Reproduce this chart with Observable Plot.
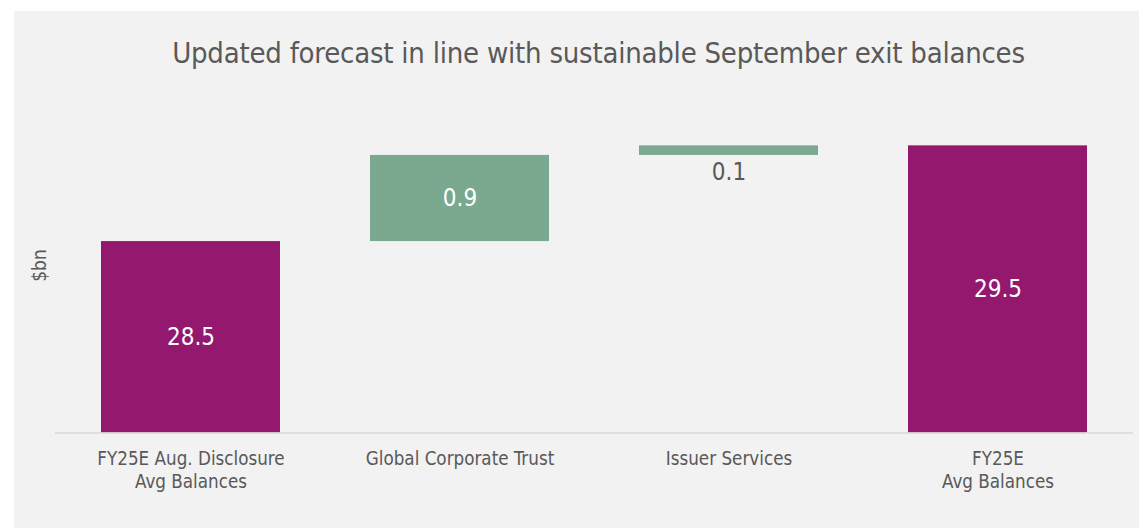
<!DOCTYPE html>
<html>
<head>
<meta charset="utf-8">
<script src="https://cdn.jsdelivr.net/npm/d3@7"></script>
<script src="https://cdn.jsdelivr.net/npm/@observablehq/plot@0.6"></script>
<style>
  html, body { margin: 0; padding: 0; background: #ffffff; }
  body { width: 1139px; height: 529px; position: relative; overflow: hidden;
         font-family: "DejaVu Sans Condensed", "Liberation Sans", sans-serif; }
  #panel { position: absolute; left: 14px; top: 11px; width: 1125px; height: 517px; background: #f2f2f2; }
  #title { position: absolute; left: 58px; width: 1081px; top: 35px; text-align: center;
           font-size: 29px; line-height: 36px; letter-spacing: -0.23px; color: #595959; white-space: nowrap; }
  #chart { position: absolute; left: 0; top: 80px; }
</style>
</head>
<body>
<div id="panel"></div>
<div id="title">Updated forecast in line with sustainable September exit balances</div>
<div id="chart"></div>
<script>
// ---- data ----
const categories = [
  "FY25E Aug. Disclosure\nAvg Balances",
  "Global Corporate Trust",
  "Issuer Services",
  "FY25E\nAvg Balances"
];
const values = [28.5, 0.9, 0.1, 29.5];
const kinds = ["total", "delta", "delta", "total"];
const yDomain = [26.5, 30];
const yLabel = "$bn";

// ---- build waterfall rows ----
let running = 0;
const rows = categories.map((cat, i) => {
  let y1, y2;
  if (kinds[i] === "total") { y1 = yDomain[0]; y2 = values[i]; running = values[i]; }
  else { y1 = running; y2 = running + values[i]; running = y2; }
  return { cat, kind: kinds[i], value: values[i], y1, y2, mid: (y1 + y2) / 2,
           inside: kinds[i] === "total" || Math.abs(values[i]) >= 0.5 };
});

const fontFamily = '"DejaVu Sans Condensed", "Liberation Sans", sans-serif';

const chart = Plot.plot({
  width: 1139,
  height: 449,
  marginLeft: 55,
  marginRight: 6,
  marginTop: 17.5,
  marginBottom: 96.5,
  style: { background: "transparent", fontFamily, color: "#595959", overflow: "visible" },
  x: { domain: categories, paddingInner: 1/3, paddingOuter: 1/6, label: null },
  y: { domain: yDomain, label: yLabel },
  color: { domain: ["total", "delta"], range: ["#93186e", "#7aa98f"] },
  marks: [
    Plot.axisY({ ticks: [], tickSize: 0, label: yLabel, labelAnchor: "center", labelArrow: "none",
                 labelOffset: 23, fontSize: 19, fill: "#595959" }),
    Plot.barY(rows, { x: "cat", y1: "y1", y2: "y2", fill: "kind" }),
    Plot.ruleY([yDomain[0]], { stroke: "#d9d9d9", strokeWidth: 1.5 }),
    Plot.axisX({ tickSize: 0, tickPadding: 16, fontSize: 18.67, lineHeight: 1.22, fill: "#595959", label: null }),
    Plot.text(rows.filter(d => d.inside), { x: "cat", y: "mid", text: d => d.value.toFixed(1),
                 fill: "#ffffff", fontSize: 24 }),
    Plot.text(rows.filter(d => !d.inside), { x: "cat", y: "y1", text: d => d.value.toFixed(1),
                 lineAnchor: "top", dy: 8, fill: "#595959", fontSize: 24 })
  ]
});
document.getElementById("chart").appendChild(chart);
</script>
</body>
</html>
